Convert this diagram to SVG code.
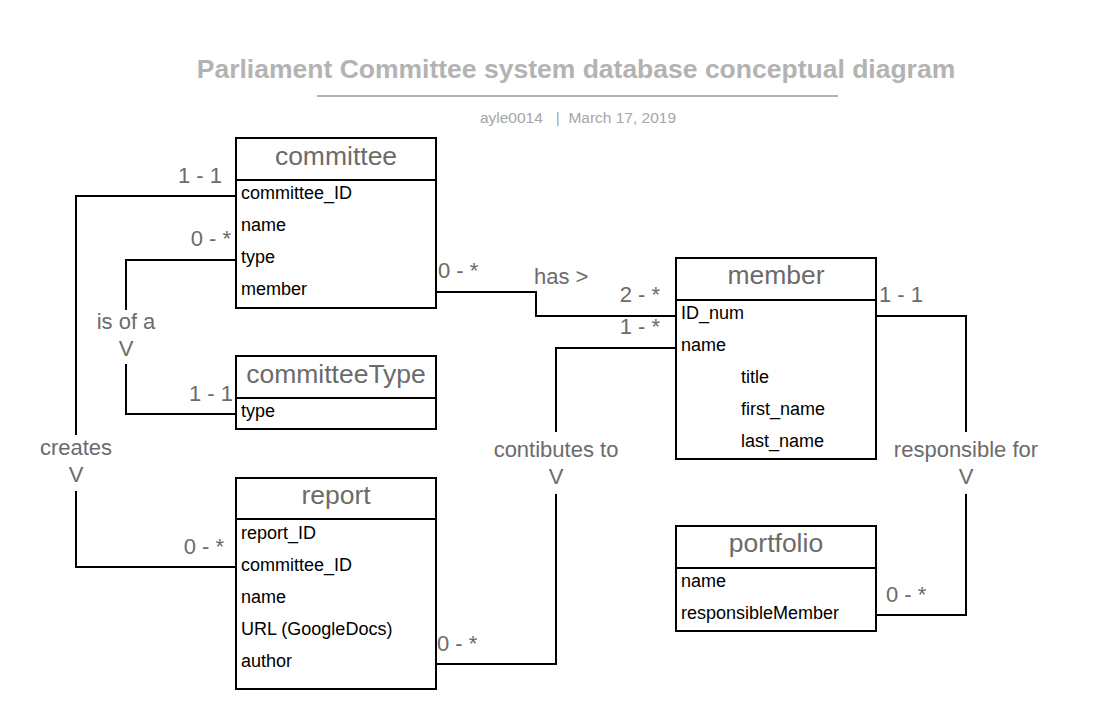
<svg xmlns="http://www.w3.org/2000/svg" width="1096" height="720" viewBox="0 0 1096 720">
<style>
.box{fill:#fff;stroke:#000;stroke-width:2}
.div{stroke:#000;stroke-width:2}
.hdr{font-family:"Liberation Sans",Arial,sans-serif;font-size:26.5px;fill:#6b6b6b;text-anchor:middle}
.att{font-family:"Liberation Sans",Arial,sans-serif;font-size:18px;fill:#000}
.lbl{font-family:"Liberation Sans",Arial,sans-serif;font-size:22px;fill:#6b6b6b}
.mid{text-anchor:middle}
.end{text-anchor:end}
.con{fill:none;stroke:#000;stroke-width:2}
</style>
<rect width="1096" height="720" fill="#fff"/>
<g id="title">
<text x="576" y="78" font-family="Liberation Sans,Arial,sans-serif" font-weight="bold" font-size="26.5" fill="#b3b3b3" text-anchor="middle">Parliament Committee system database conceptual diagram</text>
<line x1="317" y1="96" x2="838" y2="96" stroke="#b3b3b3" stroke-width="2"/>
<text x="578" y="123" font-family="Liberation Sans,Arial,sans-serif" font-size="15.5" fill="#a6a6a6" text-anchor="middle" xml:space="preserve">ayle0014   |  March 17, 2019</text>
</g>
<g id="connectors">
<polyline class="con" points="236,196 76,196 76,435"/>
<polyline class="con" points="76,491 76,567 236,567"/>
<polyline class="con" points="236,260 126,260 126,310"/>
<polyline class="con" points="126,364 126,414 236,414"/>
<polyline class="con" points="436,292 536,292 536,316 676,316"/>
<polyline class="con" points="676,348 556,348 556,432"/>
<polyline class="con" points="556,494 556,664 436,664"/>
<polyline class="con" points="876,316 966,316 966,432"/>
<polyline class="con" points="966,494 966,615 876,615"/>
</g>
<g id="labels">
<text class="lbl end" x="222" y="183">1 - 1</text>
<text class="lbl end" x="231" y="246">0 - *</text>
<text class="lbl" x="438" y="278">0 - *</text>
<text class="lbl" x="534" y="284">has &gt;</text>
<text class="lbl end" x="660" y="302">2 - *</text>
<text class="lbl end" x="660" y="334">1 - *</text>
<text class="lbl" x="879" y="302">1 - 1</text>
<text class="lbl mid" x="126" y="329">is of a</text>
<text class="lbl mid" x="126" y="356">V</text>
<text class="lbl end" x="233" y="401">1 - 1</text>
<text class="lbl mid" x="76" y="455">creates</text>
<text class="lbl mid" x="76" y="482">V</text>
<text class="lbl mid" x="556" y="457">contibutes to</text>
<text class="lbl mid" x="556" y="484">V</text>
<text class="lbl mid" x="966" y="457">responsible for</text>
<text class="lbl mid" x="966" y="484">V</text>
<text class="lbl end" x="224" y="554">0 - *</text>
<text class="lbl" x="437" y="651">0 - *</text>
<text class="lbl" x="886" y="602">0 - *</text>
</g>
<g id="committee">
<rect class="box" x="236" y="138" width="200" height="170"/>
<line class="div" x1="236" y1="180" x2="436" y2="180"/>
<text class="hdr" x="336" y="165">committee</text>
<text class="att" x="241" y="199">committee_ID</text>
<text class="att" x="241" y="231">name</text>
<text class="att" x="241" y="263">type</text>
<text class="att" x="241" y="295">member</text>
</g>
<g id="committeeType">
<rect class="box" x="236" y="356" width="200" height="73"/>
<line class="div" x1="236" y1="398" x2="436" y2="398"/>
<text class="hdr" x="336" y="383">committeeType</text>
<text class="att" x="241" y="417">type</text>
</g>
<g id="member">
<rect class="box" x="676" y="258" width="200" height="201"/>
<line class="div" x1="676" y1="300" x2="876" y2="300"/>
<text class="hdr" x="776" y="284">member</text>
<text class="att" x="681" y="319">ID_num</text>
<text class="att" x="681" y="351">name</text>
<text class="att" x="741" y="383">title</text>
<text class="att" x="741" y="415">first_name</text>
<text class="att" x="741" y="447">last_name</text>
</g>
<g id="report">
<rect class="box" x="236" y="478" width="200" height="211"/>
<line class="div" x1="236" y1="519" x2="436" y2="519"/>
<text class="hdr" x="336" y="504">report</text>
<text class="att" x="241" y="539">report_ID</text>
<text class="att" x="241" y="571">committee_ID</text>
<text class="att" x="241" y="603">name</text>
<text class="att" x="241" y="635">URL (GoogleDocs)</text>
<text class="att" x="241" y="667">author</text>
</g>
<g id="portfolio">
<rect class="box" x="676" y="526" width="200" height="105"/>
<line class="div" x1="676" y1="568" x2="876" y2="568"/>
<text class="hdr" x="776" y="552">portfolio</text>
<text class="att" x="681" y="587">name</text>
<text class="att" x="681" y="619">responsibleMember</text>
</g>
</svg>
